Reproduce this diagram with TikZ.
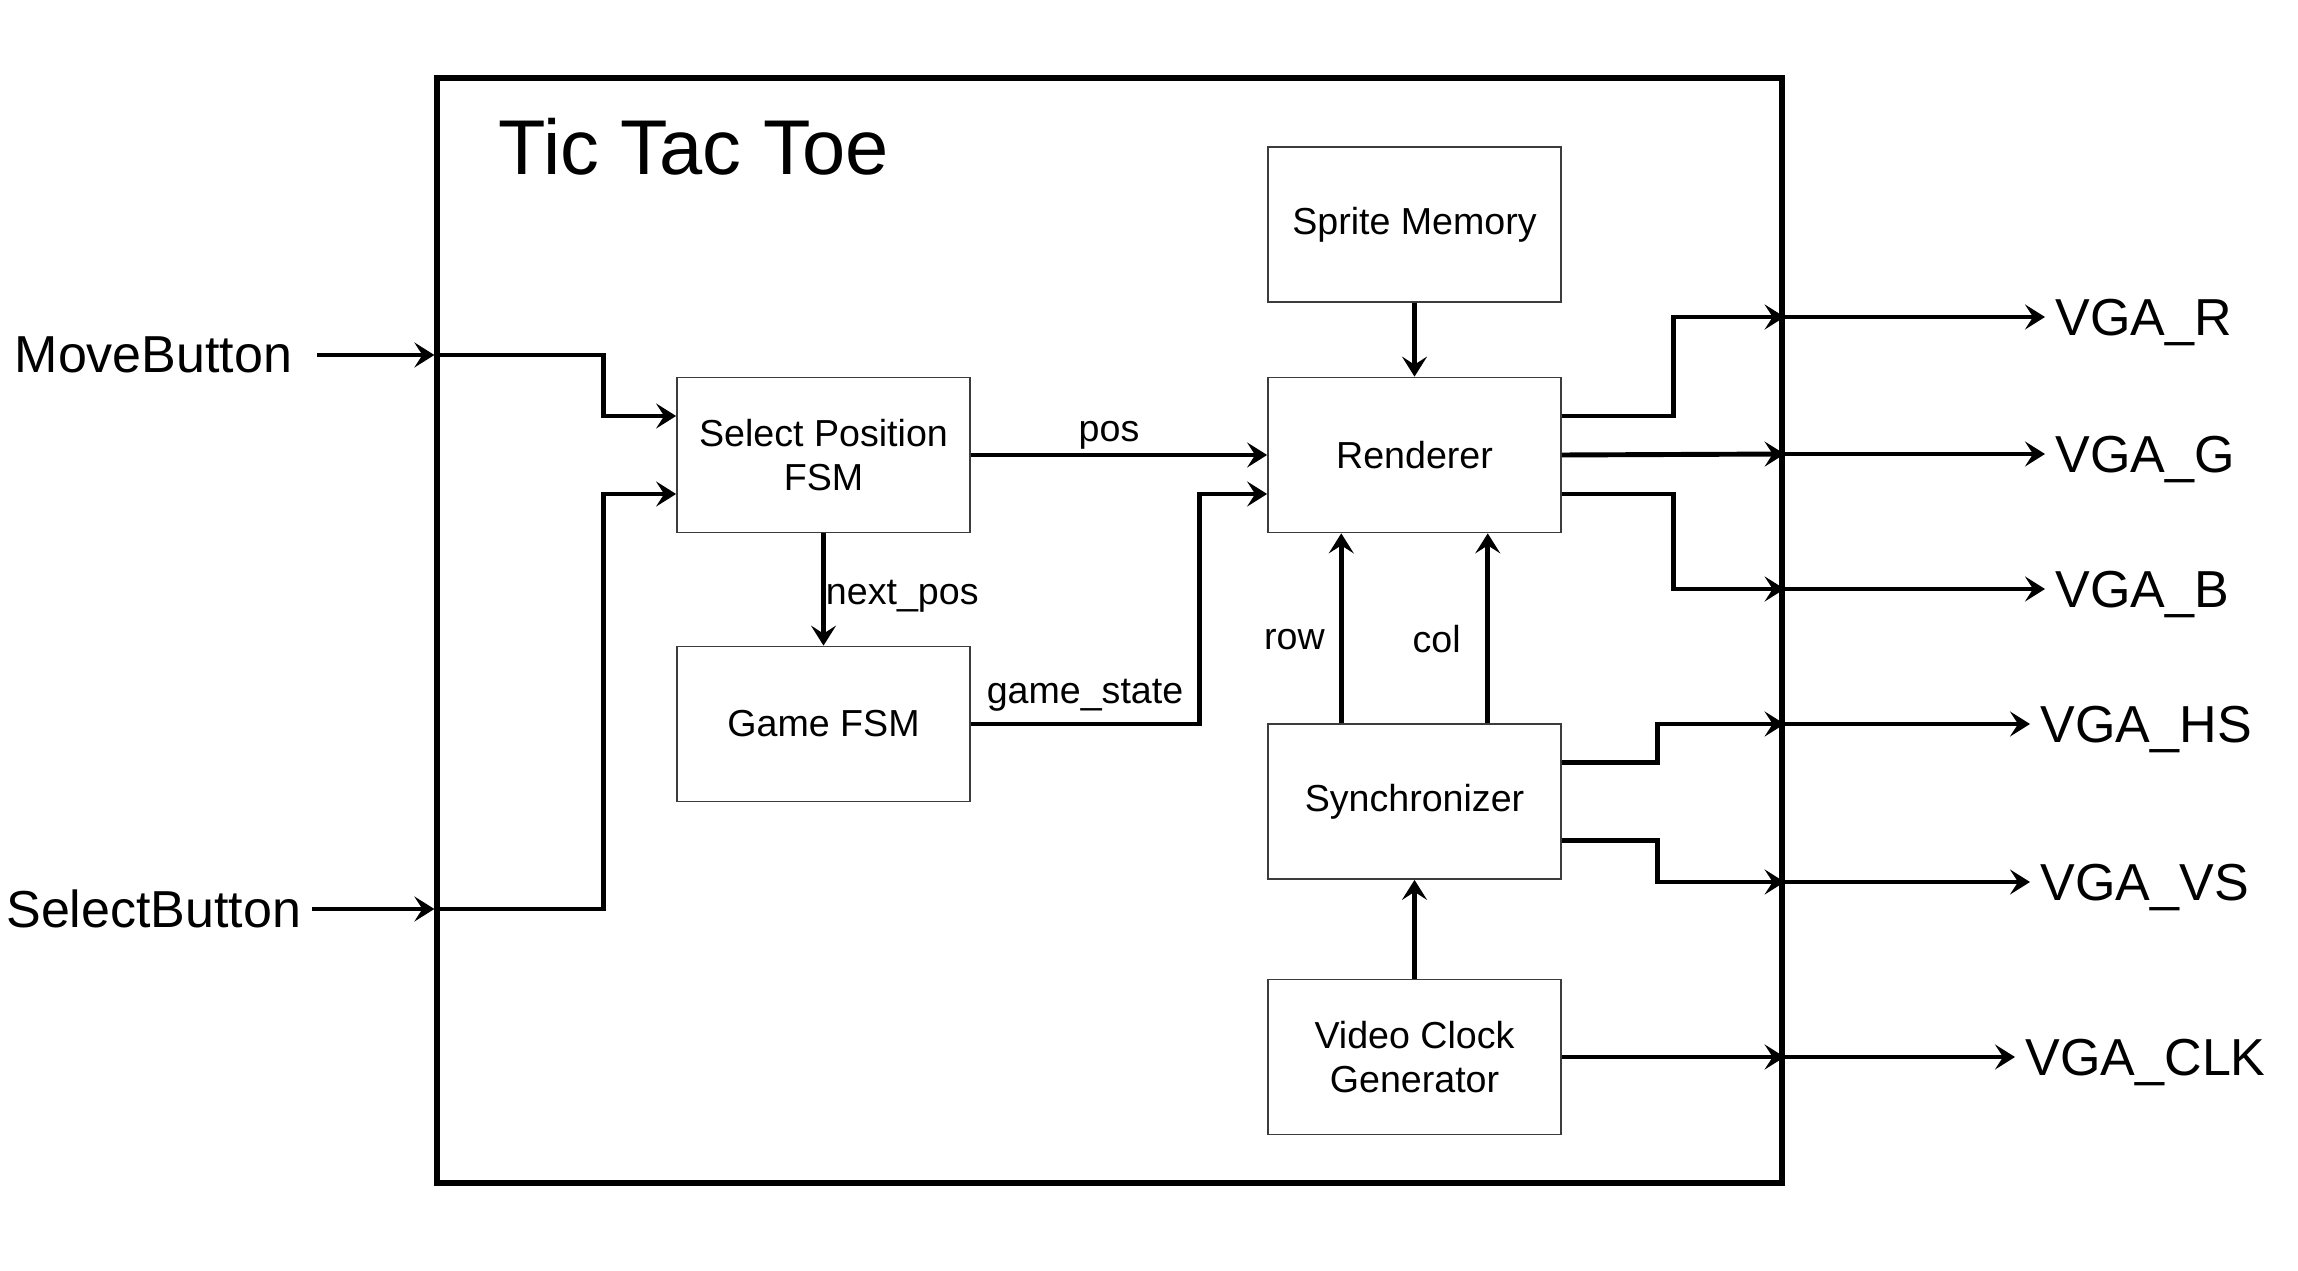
\documentclass[tikz,border=0pt]{standalone}
\usepackage{fontspec}
\setmainfont{Liberation Sans}
\usetikzlibrary{positioning,arrows.meta,calc}
\definecolor{boxline}{RGB}{60,60,60}
\tikzset{
  box/.style={draw=boxline, line width=0.5pt, minimum width=2.93cm, minimum height=1.55cm,
              align=center, inner sep=2pt, font=\fontsize{10.7}{12.5}\selectfont},
  call/.style={-{Stealth[length=2mm, width=2.5mm, inset=0.8mm]}, line width=1.4pt},
  lab/.style={font=\fontsize{10.7}{12.5}\selectfont, inner sep=2pt},
  io/.style={font=\fontsize{14.8}{17}\selectfont, inner sep=1mm, text depth=0pt},
}

\begin{document}
\begin{tikzpicture}
  \useasboundingbox (0,0) rectangle (22.98,-12.71);

  %% outer block
  \node[draw, line width=1.5pt, minimum width=13.45cm, minimum height=11.05cm] (top) at (11.095,-6.305) {};
  \node[font=\fontsize{22.1}{25}\selectfont, inner sep=0pt, anchor=west] (title) at (4.98,-1.47) {Tic Tac Toe};

  %% blocks
  \node[box] (sprite) at (14.145,-2.245) {Sprite Memory};
  \node[box] (renderer) at (14.145,-4.55) {Renderer};
  \node[box] (select) at (8.235,-4.55) {Select Position\\FSM};
  \node[box] (game) at (8.235,-7.24) {Game FSM};
  \node[box] (sync) at (14.145,-8.015) {Synchronizer};
  \node[box] (vclk) at (14.145,-10.57) {Video Clock\\Generator};

  %% inputs
  \node[io, anchor=east, inner xsep=2.4mm] (move) at (3.17,-3.55) {MoveButton};
  \node[io, anchor=east] (selbtn) at (3.12,-9.09) {SelectButton};
  \draw[call] (move) -- (move -| top.west);
  \draw[call] (selbtn) -- (selbtn -| top.west);
  \draw[call] (move -| top.west) -| ($(select.west)+(-0.73,0.39)$) -- ($(select.west)+(0,0.39)$);
  \draw[call] (selbtn -| top.west) -| ($(select.west)+(-0.73,-0.39)$) -- ($(select.west)+(0,-0.39)$);

  %% internal signals
  \draw[call] (select) -- node[lab, above=0pt, xshift=-0.1cm, yshift=-0.04cm] {pos} (renderer);
  \draw[call] (select) -- node[lab, right=-2pt, yshift=-0.07cm] {next\_pos} (game);
  \draw[call] (game.east) -| node[lab, pos=0.25, above=1pt] {game\_state} ($(renderer.west)+(-0.68,-0.39)$)
    -- ($(renderer.west)+(0,-0.39)$);
  \draw[call] (sprite) -- (renderer);
  \draw[call] ($(sync.north)+(-0.7325,0)$) -- node[lab, left=2pt, yshift=-0.11cm] {row} ($(renderer.south)+(-0.7325,0)$);
  \draw[call] ($(sync.north)+(0.7325,0)$) -- node[lab, left=5pt, yshift=-0.11cm] {col} ($(renderer.south)+(0.7325,0)$);
  \draw[call] (vclk) -- (sync);

  %% outputs
  \node[io, anchor=west] (vgar) at (20.45,-3.17) {VGA\_R};
  \node[io, anchor=west] (vgag) at (20.45,-4.54) {VGA\_G};
  \node[io, anchor=west] (vgab) at (20.45,-5.89) {VGA\_B};
  \node[io, anchor=west] (vgahs) at (20.30,-7.24) {VGA\_HS};
  \node[io, anchor=west] (vgavs) at (20.30,-8.82) {VGA\_VS};
  \node[io, anchor=west] (vgaclk) at (20.15,-10.57) {VGA\_CLK};

  \draw[call] ($(renderer.east)+(0,0.39)$) -| ($(vgar -| top.east)+(-1.11,0)$) -- (vgar -| top.east);
  \draw[call] (renderer.east) -- (vgag -| top.east);
  \draw[call] ($(renderer.east)+(0,-0.39)$) -| ($(vgab -| top.east)+(-1.11,0)$) -- (vgab -| top.east);
  \draw[call] ($(sync.east)+(0,0.39)$) -| ($(vgahs -| top.east)+(-1.27,0)$) -- (vgahs -| top.east);
  \draw[call] ($(sync.east)+(0,-0.39)$) -| ($(vgavs -| top.east)+(-1.27,0)$) -- (vgavs -| top.east);
  \draw[call] (vclk) -- (vgaclk -| top.east);

  \draw[call] (vgar -| top.east) -- (vgar);
  \draw[call] (vgag -| top.east) -- (vgag);
  \draw[call] (vgab -| top.east) -- (vgab);
  \draw[call] (vgahs -| top.east) -- (vgahs);
  \draw[call] (vgavs -| top.east) -- (vgavs);
  \draw[call] (vgaclk -| top.east) -- (vgaclk);
\end{tikzpicture}
\end{document}
